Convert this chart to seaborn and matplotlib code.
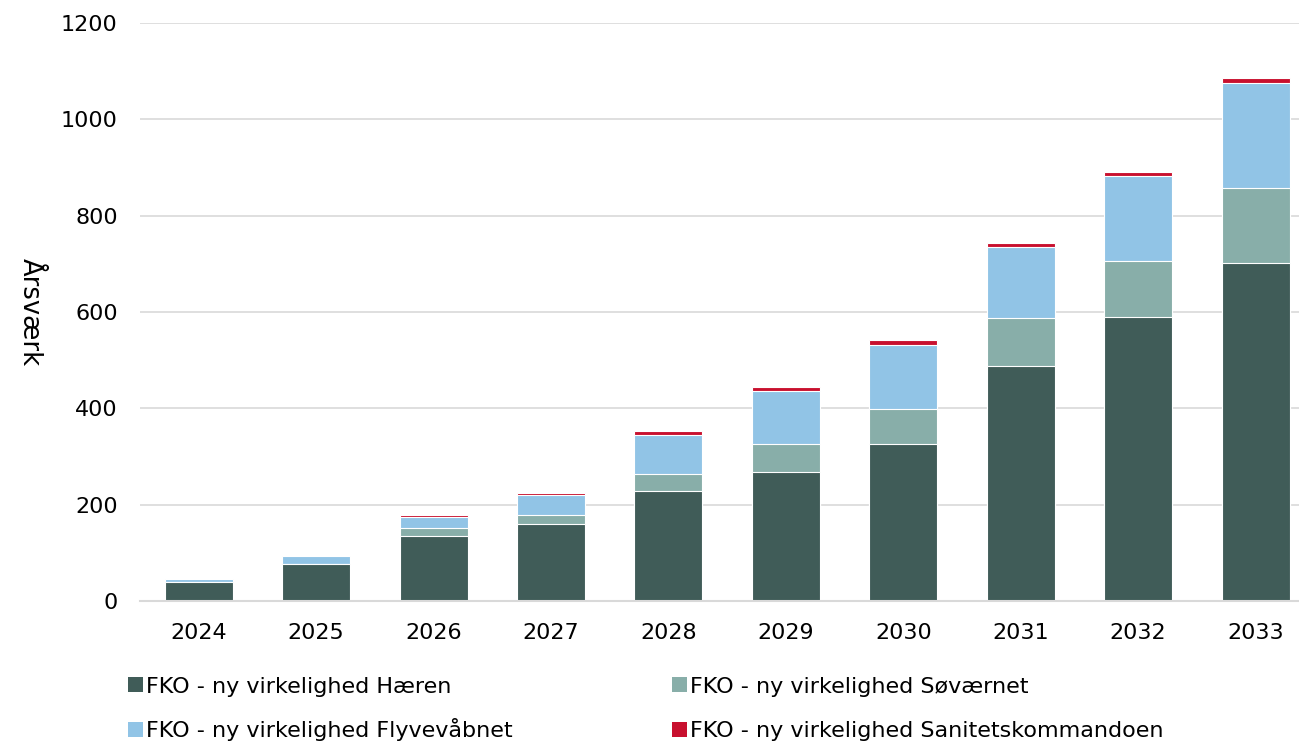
import numpy as np
import pandas as pd
import matplotlib
matplotlib.use("Agg")
import matplotlib.pyplot as plt
from matplotlib.patches import Patch
import seaborn as sns

# Data
aar = ["2024", "2025", "2026", "2027", "2028", "2029", "2030", "2031", "2032", "2033"]
haeren = [40, 76, 135, 160, 228, 268, 326, 488, 590, 702]
soevaernet = [0, 0, 17, 18, 35, 58, 72, 100, 115, 156]
flyvevaabnet = [5, 17, 22, 42, 82, 110, 134, 147, 177, 217]
sanitet = [0, 0, 5, 4, 8, 8, 10, 9, 9, 10]

serier = ["FKO - ny virkelighed Hæren", "FKO - ny virkelighed Søværnet",
          "FKO - ny virkelighed Flyvevåbnet", "FKO - ny virkelighed Sanitetskommandoen"]
farver = ["#405C58", "#88AEA9", "#91C4E6", "#C8102E"]

df = pd.DataFrame({"aar": aar, "h": haeren, "s": soevaernet, "f": flyvevaabnet, "san": sanitet})
# cumulative sums for the stacking (draw tallest first, then overlay)
df["c1"] = df["h"]
df["c2"] = df["c1"] + df["s"]
df["c3"] = df["c2"] + df["f"]
df["c4"] = df["c3"] + df["san"]

sns.set_theme(style="white")
plt.rcParams["font.family"] = ["DejaVu Sans"]

fig = plt.figure(figsize=(12.99, 7.43), dpi=100)
ax = fig.add_axes([0.1078, 0.1911, 0.8922, 0.778])

for col, farve in zip(["c4", "c3", "c2", "c1"], farver[::-1]):
    sns.barplot(data=df, x="aar", y=col, color=farve, width=0.58, saturation=1,
                edgecolor="white", linewidth=0.8, ax=ax)

ax.set_ylim(0, 1200)
ax.set_xlim(-0.5, 9.37)
ax.set_yticks(range(0, 1201, 200))
ax.yaxis.grid(True, color="#D9D9D9", linewidth=1.2)
ax.set_axisbelow(True)
for side in ["left", "right", "top"]:
    ax.spines[side].set_visible(False)
ax.spines["bottom"].set_color("#D9D9D9")
ax.spines["bottom"].set_linewidth(1.5)
ax.tick_params(axis="both", length=0, labelsize=16, colors="black")
ax.tick_params(axis="x", pad=16)
ax.tick_params(axis="y", pad=16)
ax.set_xlabel("")
ax.set_ylabel("Årsværk", fontsize=18.5, rotation=270, color="black")
ax.yaxis.set_label_coords(-0.106, 0.5)

# legend: 2x2 grid, one entry per slot so the rows line up
pladser = [(0.0985, 0.076), (0.517, 0.076), (0.0985, 0.0182), (0.517, 0.0155)]
for (x, y), navn, farve in zip(pladser, serier, farver):
    fig.legend([Patch(facecolor=farve, edgecolor="none")], [navn],
               loc="center left", bbox_to_anchor=(x, y), frameon=False,
               fontsize=16, labelcolor="black", handlelength=0.68,
               handleheight=0.68, handletextpad=0.15, borderaxespad=0, borderpad=0)

fig.savefig("out.png", dpi=100)
